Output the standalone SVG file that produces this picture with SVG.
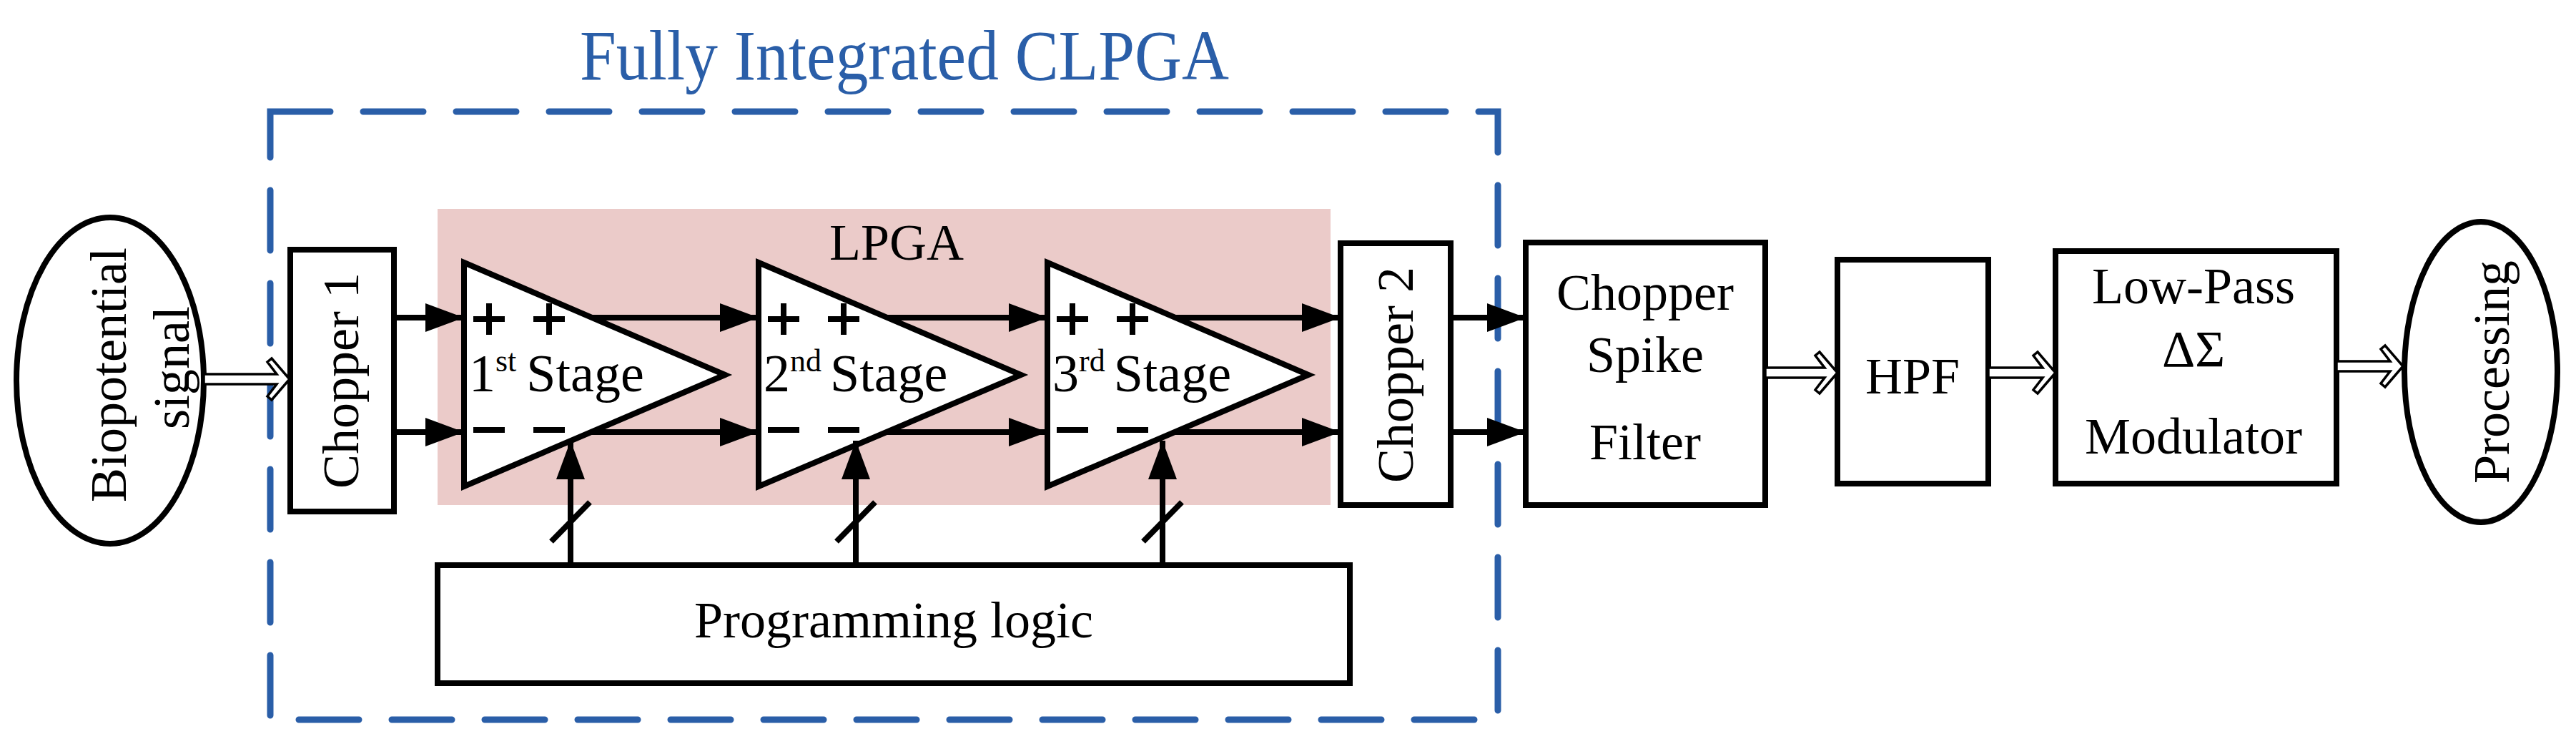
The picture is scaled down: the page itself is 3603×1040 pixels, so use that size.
<svg xmlns="http://www.w3.org/2000/svg" width="3603" height="1040" viewBox="0 0 3603 1040" font-family="'Liberation Serif','Times New Roman',serif">
<style>
text{font-family:"Liberation Serif","Times New Roman",serif;fill:#000}
.t{font-size:72px}
.b{fill:#fff;stroke:#000;stroke-width:8}
.w{stroke:#000;stroke-width:8;fill:none}
.h{fill:#fff;stroke:#000;stroke-width:3.5;stroke-linejoin:miter}
.s{stroke:#000;stroke-width:8;fill:none}
</style>
<defs>
<marker id="ah" markerUnits="userSpaceOnUse" markerWidth="56" markerHeight="40" refX="54" refY="20" orient="auto"><path d="M0,0 L54,20 L0,40 Z" fill="#000"/></marker>
</defs>
<g id="fully-integrated">
<rect x="378" y="156" width="1717" height="850" fill="none" stroke="#2a5ea8" stroke-width="9" stroke-dasharray="84 46" stroke-linecap="round"/>
<text x="811" y="111" textLength="908" lengthAdjust="spacingAndGlyphs" style="font-size:100px;fill:#2a5ea8">Fully Integrated CLPGA</text>
</g>
<g id="lpga">
<rect x="612" y="292" width="1249" height="414" fill="#ebcbc9"/>
<text class="t" x="1254" y="363" text-anchor="middle">LPGA</text>
</g>
<g id="biopotential">
<ellipse cx="154" cy="532" rx="131" ry="228" class="b"/>
<text class="t" transform="translate(176,524) rotate(-90)" text-anchor="middle">Biopotential</text>
<text class="t" transform="translate(264,514) rotate(-90)" text-anchor="middle">signal</text>
</g>
<g id="chopper1">
<rect x="406" y="349" width="145" height="366" class="b"/>
<text class="t" transform="translate(501,532) rotate(-90)" text-anchor="middle">Chopper 1</text>
</g>
<g id="stage1">
<path d="M649,367 L1014,524 L649,680 Z" class="b" stroke-linejoin="miter"/>
<path class="s" d="M662,446 h44 M684,424 v44 M746,446 h44 M768,424 v44 M662,601 h44 M746,601 h44"/>
<text x="656" y="547" style="font-size:74px">1<tspan dy="-28" style="font-size:44px">st</tspan><tspan dy="28" dx="14">Stage</tspan></text>
</g>
<g id="stage2">
<path d="M1061,367 L1428,524 L1061,680 Z" class="b"/>
<path class="s" d="M1074,446 h44 M1096,424 v44 M1158,446 h44 M1180,424 v44 M1074,601 h44 M1158,601 h44"/>
<text x="1068" y="547" style="font-size:74px">2<tspan dy="-28" style="font-size:44px">nd</tspan><tspan dy="28" dx="12">Stage</tspan></text>
</g>
<g id="stage3">
<path d="M1465,367 L1830,524 L1465,680 Z" class="b"/>
<path class="s" d="M1478,446 h44 M1500,424 v44 M1562,446 h44 M1584,424 v44 M1478,601 h44 M1562,601 h44"/>
<text x="1472" y="547" style="font-size:74px">3<tspan dy="-28" style="font-size:44px">rd</tspan><tspan dy="28" dx="12">Stage</tspan></text>
</g>
<g id="chopper2">
<rect x="1875" y="340" width="154" height="366" class="b"/>
<text class="t" transform="translate(1976,524) rotate(-90)" text-anchor="middle">Chopper 2</text>
</g>
<g id="programming-logic">
<rect x="612" y="790" width="1276" height="165" class="b"/>
<text class="t" x="1250" y="891" text-anchor="middle">Programming logic</text>
</g>
<g id="spike-filter">
<rect x="2134" y="339" width="335" height="367" class="b"/>
<text class="t" x="2301" y="433" text-anchor="middle">Chopper</text>
<text class="t" x="2301" y="520" text-anchor="middle">Spike</text>
<text class="t" x="2301" y="642" text-anchor="middle">Filter</text>
</g>
<g id="hpf">
<rect x="2570" y="363" width="211" height="313" class="b"/>
<text class="t" x="2675" y="550" text-anchor="middle">HPF</text>
</g>
<g id="lowpass">
<rect x="2875" y="351" width="393" height="325" class="b"/>
<text class="t" x="3068" y="424" text-anchor="middle">Low-Pass</text>
<text class="t" x="3068" y="512" text-anchor="middle">ΔΣ</text>
<text class="t" x="3068" y="634" text-anchor="middle">Modulator</text>
</g>
<g id="processing">
<ellipse cx="3470" cy="520" rx="107" ry="210" class="b"/>
<text class="t" transform="translate(3509,520) rotate(-90)" text-anchor="middle">Processing</text>
</g>
<g id="connectors">
<path class="h" d="M285,523 H387 L374,506 L380,501 L405,530 L380,559 L374,554 L387,537 H285 Z"/>
<path class="h" d="M2469,514 H2552 L2539,497 L2545,492 L2570,521 L2545,550 L2539,545 L2552,528 H2469 Z"/>
<path class="h" d="M2781,514 H2857 L2844,497 L2850,492 L2875,521 L2850,550 L2844,545 L2857,528 H2781 Z"/>
<path class="h" d="M3268,505 H3343 L3330,488 L3336,483 L3361,512 L3336,541 L3330,536 L3343,519 H3268 Z"/>
<g class="w" marker-end="url(#ah)">
<path d="M551,444 H649"/>
<path d="M551,604 H649"/>
<path d="M828,444 H1061"/>
<path d="M827,604 H1061"/>
<path d="M1241,444 H1465"/>
<path d="M1240,604 H1465"/>
<path d="M1645,444 H1875"/>
<path d="M1644,604 H1875"/>
<path d="M2029,444 H2134"/>
<path d="M2029,604 H2134"/>
<path d="M798,790 V616"/>
<path d="M1197,790 V616"/>
<path d="M1626,790 V616"/>
</g>
<path class="w" d="M771,757 L825,702 M1170,757 L1224,702 M1599,757 L1653,702"/>
</g>
</svg>
